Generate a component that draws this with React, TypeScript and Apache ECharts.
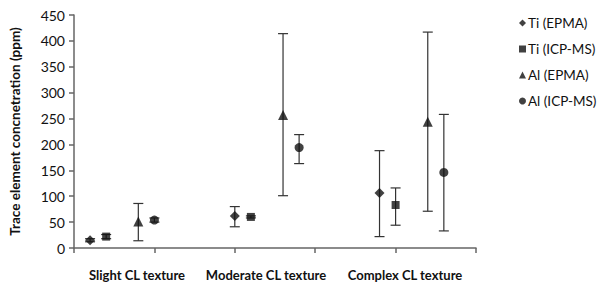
import React, { useEffect, useRef } from "react";
import * as echarts from "echarts";

const groupLabels = ["Slight CL texture", "Moderate CL texture", "Complex CL texture"];
const seriesNames = ["Ti (EPMA)", "Ti (ICP-MS)", "Al (EPMA)", "Al (ICP-MS)"];
const seriesSymbols = ["diamond", "rect", "triangle", "circle"];
const seriesSizes = [10, 8, 10, 9];

// x positions on the scatter axis (0..5), one per group
const tiEpmaX = [0.2, 2.0, 3.8];
const tiIcpX = [0.4, 2.2, 4.0];
const alEpmaX = [0.8, 2.6, 4.4];
const alIcpX = [1.0, 2.8, 4.6];

const tiEpmaY = [15, 62, 106];
const tiEpmaLow = [12, 41, 22];
const tiEpmaHigh = [18, 80, 188];

const tiIcpY = [22, 60, 83];
const tiIcpLow = [18, 58, 44];
const tiIcpHigh = [26, 62, 116];

const alEpmaY = [51, 257, 244];
const alEpmaLow = [14, 101, 71];
const alEpmaHigh = [86, 414, 417];

const alIcpY = [54, 194, 146];
const alIcpLow = [50, 163, 33];
const alIcpHigh = [58, 219, 258];

const yTicks = [0, 50, 100, 150, 200, 250, 300, 350, 400, 450];

const FONT = "Lato";

export default function App() {
  const ref = useRef<HTMLDivElement>(null);
  useEffect(() => {
    if (!ref.current) return;
    const chart = echarts.init(ref.current, null, { renderer: "svg" });
    const xs = [tiEpmaX, tiIcpX, alEpmaX, alIcpX];
    const ys = [tiEpmaY, tiIcpY, alEpmaY, alIcpY];
    const lows = [tiEpmaLow, tiIcpLow, alEpmaLow, alIcpLow];
    const highs = [tiEpmaHigh, tiIcpHigh, alEpmaHigh, alIcpHigh];

    const scatterSeries = seriesNames.map((name, i) => ({
      name,
      type: "scatter",
      symbol: seriesSymbols[i],
      symbolSize: seriesSizes[i],
      itemStyle: { color: "#111" },
      z: 5,
      data: xs[i].map((x, j) => [x, ys[i][j]]),
    }));

    const errorSeries = seriesNames.map((name, i) => ({
      name: name + " err",
      type: "custom",
      z: 3,
      renderItem: (params: any, api: any) => {
        const x = api.value(0);
        const lo = api.coord([x, api.value(1)]);
        const hi = api.coord([x, api.value(2)]);
        const w = 5;
        const style = { stroke: "#333", lineWidth: 1.2 };
        return {
          type: "group",
          children: [
            { type: "line", shape: { x1: lo[0], y1: lo[1], x2: hi[0], y2: hi[1] }, style },
            { type: "line", shape: { x1: lo[0] - w, y1: lo[1], x2: lo[0] + w, y2: lo[1] }, style },
            { type: "line", shape: { x1: hi[0] - w, y1: hi[1], x2: hi[0] + w, y2: hi[1] }, style },
          ],
        };
      },
      data: xs[i].map((x, j) => [x, lows[i][j], highs[i][j]]),
    }));

    const labelCenters = [137, 266, 405];

    chart.setOption({
      animation: false,
      textStyle: { fontFamily: FONT },
      grid: { left: 74, right: 123, top: 15, bottom: 36 },
      legend: {
        orient: "vertical",
        left: 514,
        top: 11,
        itemGap: 12,
        itemWidth: 7,
        itemHeight: 7,
        data: seriesNames.map((n, i) => ({ name: n, icon: seriesSymbols[i] })),
        textStyle: { fontFamily: FONT, fontSize: 13.5, color: "#111", padding: [0, 0, 0, -3] },
      },
      xAxis: {
        type: "value",
        min: 0,
        max: 5,
        interval: 1,
        axisLine: { show: true, onZero: false, lineStyle: { color: "#666", width: 1.5 } },
        axisTick: { show: true, length: 5, lineStyle: { color: "#666", width: 1.5 } },
        axisLabel: { show: false },
        splitLine: { show: false },
      },
      yAxis: {
        type: "value",
        min: 0,
        max: 450,
        interval: 50,
        name: "Trace element concnetration (ppm)",
        nameLocation: "middle",
        nameGap: 52,
        nameTextStyle: { fontFamily: FONT, fontSize: 13.5, fontWeight: "bold", color: "#111" },
        axisLine: { show: true, lineStyle: { color: "#666", width: 1.5 } },
        axisTick: { show: true, length: 5, lineStyle: { color: "#666", width: 1.5 } },
        axisLabel: {
          fontFamily: FONT,
          fontSize: 14,
          color: "#111",
          margin: 9,
          formatter: (v: number) => (yTicks.includes(v) ? String(v) : ""),
        },
        splitLine: { show: false },
      },
      graphic: groupLabels.map((t, i) => ({
        type: "text",
        x: labelCenters[i],
        y: 275,
        style: {
          text: t,
          fontFamily: FONT,
          fontSize: 13,
          fontWeight: "bold",
          fill: "#111",
          align: "center",
          verticalAlign: "middle",
        },
      })),
      series: [...errorSeries, ...scatterSeries],
    });
    return () => chart.dispose();
  }, []);
  return <div ref={ref} style={{ width: 599, height: 284, position: "absolute", left: 0, top: 0 }} />;
}
